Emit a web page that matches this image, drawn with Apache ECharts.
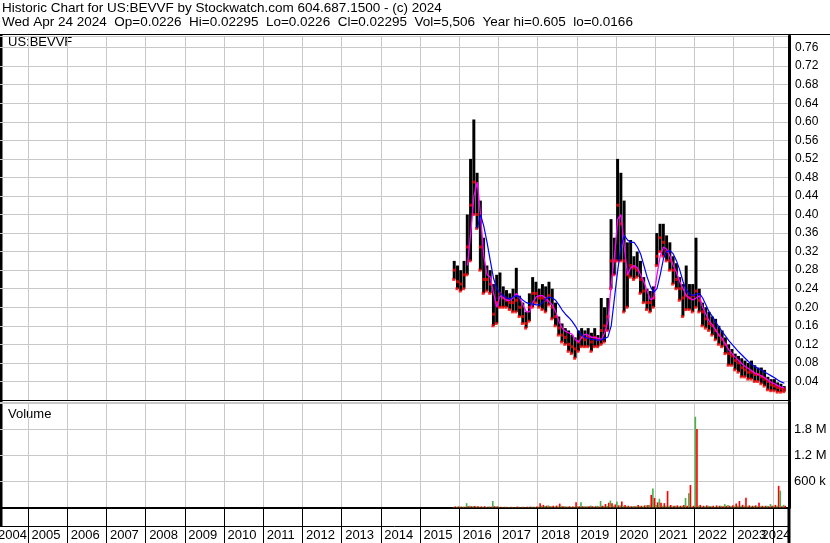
<!DOCTYPE html>
<html><head><meta charset="utf-8">
<script src="https://cdn.jsdelivr.net/npm/echarts/dist/echarts.min.js"></script>
<style>html,body{margin:0;padding:0;background:#fff}#c{width:830px;height:543px}</style>
</head><body><div id="c"></div>
<script>
// ---------- data (monthly) ----------
const months = [
 "2015-11","2015-12",
 "2016-01","2016-02","2016-03","2016-04","2016-05","2016-06","2016-07","2016-08","2016-09","2016-10","2016-11","2016-12",
 "2017-01","2017-02","2017-03","2017-04","2017-05","2017-06","2017-07","2017-08","2017-09","2017-10","2017-11","2017-12",
 "2018-01","2018-02","2018-03","2018-04","2018-05","2018-06","2018-07","2018-08","2018-09","2018-10","2018-11","2018-12",
 "2019-01","2019-02","2019-03","2019-04","2019-05","2019-06","2019-07","2019-08","2019-09","2019-10","2019-11","2019-12",
 "2020-01","2020-02","2020-03","2020-04","2020-05","2020-06","2020-07","2020-08","2020-09","2020-10","2020-11","2020-12",
 "2021-01","2021-02","2021-03","2021-04","2021-05","2021-06","2021-07","2021-08","2021-09","2021-10","2021-11","2021-12",
 "2022-01","2022-02","2022-03","2022-04","2022-05","2022-06","2022-07","2022-08","2022-09","2022-10","2022-11","2022-12",
 "2023-01","2023-02","2023-03","2023-04","2023-05","2023-06","2023-07","2023-08","2023-09","2023-10","2023-11","2023-12",
 "2024-01","2024-02","2024-03","2024-04"];
const highs = [
 0.30,0.29,
 0.28,0.30,0.40,0.52,0.605,0.49,0.43,0.35,0.29,0.28,0.25,0.27,
 0.275,0.245,0.237,0.23,0.24,0.285,0.225,0.21,0.19,0.23,0.265,0.255,
 0.24,0.25,0.245,0.255,0.24,0.21,0.18,0.165,0.155,0.15,0.14,0.135,
 0.15,0.155,0.15,0.155,0.145,0.155,0.14,0.22,0.20,0.22,0.39,0.35,
 0.52,0.49,0.43,0.34,0.345,0.31,0.32,0.30,0.265,0.24,0.235,0.245,
 0.36,0.38,0.38,0.355,0.34,0.31,0.295,0.265,0.25,0.29,0.25,0.25,
 0.35,0.24,0.21,0.20,0.19,0.18,0.175,0.16,0.15,0.135,0.12,0.11,
 0.10,0.095,0.09,0.085,0.08,0.085,0.075,0.07,0.07,0.065,0.05,0.045,
 0.045,0.038,0.035,0.03];
const lows = [
 0.26,0.24,
 0.235,0.24,0.27,0.30,0.40,0.37,0.28,0.23,0.235,0.23,0.16,0.165,
 0.20,0.20,0.20,0.195,0.19,0.19,0.18,0.165,0.155,0.17,0.20,0.21,
 0.20,0.195,0.19,0.205,0.175,0.16,0.14,0.125,0.12,0.105,0.10,0.09,
 0.105,0.115,0.115,0.115,0.105,0.115,0.115,0.12,0.125,0.15,0.24,0.27,
 0.30,0.30,0.19,0.20,0.265,0.26,0.265,0.23,0.21,0.195,0.19,0.20,
 0.29,0.32,0.31,0.30,0.28,0.25,0.24,0.215,0.18,0.195,0.195,0.19,
 0.20,0.19,0.16,0.155,0.15,0.14,0.13,0.12,0.115,0.10,0.075,0.075,
 0.065,0.06,0.05,0.05,0.045,0.045,0.04,0.04,0.035,0.03,0.022,0.02,
 0.02,0.017,0.017,0.018];
const closes = [
 0.28,0.255,
 0.25,0.27,0.33,0.42,0.47,0.40,0.33,0.26,0.26,0.25,0.185,0.21,
 0.23,0.22,0.215,0.21,0.21,0.215,0.20,0.18,0.165,0.20,0.23,0.23,
 0.22,0.22,0.215,0.225,0.20,0.18,0.155,0.14,0.135,0.12,0.115,0.11,
 0.125,0.135,0.13,0.135,0.125,0.135,0.13,0.15,0.16,0.18,0.30,0.30,
 0.42,0.38,0.30,0.27,0.29,0.285,0.28,0.26,0.235,0.21,0.21,0.22,
 0.31,0.35,0.34,0.32,0.30,0.28,0.26,0.24,0.22,0.225,0.22,0.225,
 0.235,0.215,0.19,0.175,0.165,0.16,0.15,0.14,0.13,0.12,0.10,0.095,
 0.085,0.08,0.07,0.065,0.06,0.06,0.055,0.055,0.05,0.045,0.04,0.033,
 0.03,0.027,0.025,0.023];
const maShort = [
 null,null,
 null,null,0.29,0.36,0.44,0.47,0.40,0.31,0.27,0.265,0.23,0.20,
 0.225,0.22,0.215,0.215,0.22,0.23,0.22,0.205,0.19,0.19,0.21,0.222,
 0.225,0.225,0.22,0.212,0.205,0.19,0.17,0.155,0.148,0.145,0.142,0.13,
 0.125,0.135,0.142,0.14,0.135,0.135,0.133,0.13,0.145,0.17,0.25,0.31,
 0.39,0.40,0.33,0.27,0.285,0.29,0.285,0.27,0.255,0.235,0.216,0.22,
 0.27,0.31,0.33,0.325,0.31,0.29,0.275,0.255,0.24,0.225,0.22,0.216,
 0.22,0.225,0.20,0.185,0.17,0.162,0.15,0.14,0.132,0.12,0.108,0.10,
 0.092,0.085,0.078,0.072,0.068,0.063,0.058,0.055,0.052,0.048,0.043,0.038,
 0.035,0.031,0.028,0.026];
const maLong = [
 null,null,
 null,null,null,null,null,0.37,0.40,0.375,0.34,0.30,0.262,0.24,
 0.23,0.225,0.22,0.218,0.222,0.225,0.222,0.215,0.21,0.208,0.207,0.205,
 0.205,0.21,0.218,0.222,0.22,0.215,0.205,0.194,0.185,0.178,0.17,0.16,
 0.147,0.14,0.135,0.133,0.131,0.13,0.129,0.13,0.133,0.136,0.16,0.22,
 0.28,0.33,0.355,0.345,0.34,0.34,0.33,0.315,0.29,0.265,0.245,0.232,
 0.24,0.27,0.305,0.32,0.322,0.315,0.30,0.28,0.255,0.237,0.228,0.225,
 0.228,0.23,0.22,0.205,0.19,0.18,0.168,0.157,0.147,0.138,0.128,0.12,
 0.112,0.104,0.097,0.09,0.083,0.077,0.072,0.068,0.064,0.06,0.056,0.052,
 0.048,0.043,0.039,0.036];
// volume, thousands of shares
const volUp = [
 15,20,
 25,20,100,40,30,25,20,20,15,25,150,30,
 15,10,15,10,15,10,15,20,10,15,20,15,
 20,40,35,50,30,25,30,40,30,25,20,20,
 30,120,30,30,45,25,40,150,40,40,160,40,
 140,50,40,30,30,30,30,30,30,50,60,440,
 60,200,40,40,40,30,40,30,40,220,330,30,
 2095,40,30,30,40,30,20,30,40,80,60,30,
 30,40,40,40,30,30,40,30,30,30,40,80,
 40,40,390,60];
const volDown = [
 25,25,
 20,20,30,30,35,30,25,30,20,15,30,25,
 20,15,10,15,10,20,10,15,15,20,15,25,
 100,60,40,30,40,45,90,30,20,30,25,120,
 30,30,25,30,30,30,25,40,80,110,100,70,
 50,140,60,40,30,30,60,40,50,60,290,220,
 120,110,100,380,60,40,50,40,60,40,520,40,
 1810,60,40,50,30,40,50,40,30,40,40,50,
 90,150,60,225,50,40,50,110,40,40,30,40,
 60,500,30,40];
const yearTicks = [2004,2005,2006,2007,2008,2009,2010,2011,2012,2013,2014,2015,2016,2017,2018,2019,2020,2021,2022,2023,2024];
const priceStep = 0.04;
const volLabels = {600: "600 k", 1200: "1.2 M", 1800: "1.8 M"};
const headerLine1 = "Historic Chart for US:BEVVF by Stockwatch.com 604.687.1500 - (c) 2024";
const headerLine2 = "Wed Apr 24 2024  Op=0.0226  Hi=0.02295  Lo=0.0226  Cl=0.02295  Vol=5,506  Year hi=0.605  lo=0.0166";
const symbolLabel = "US:BEVVF";
const volumeTitle = "Volume";

// ---------- build ----------
const X_MIN = 2004, X_MAX = 2024.41;
const FONT = "'Liberation Sans', Arial, sans-serif";
function toYear(m){ const p = m.split('-'); return +p[0] + (+p[1]-1)/12; }
const M = 1/12;
const barData = months.map((m,i)=>[toYear(m), lows[i], highs[i]]);
const closeData = months.map((m,i)=>[toYear(m)+M/2, closes[i]]);
const lowData = months.map((m,i)=>[toYear(m)+M*0.3, lows[i]]);
const shortData = months.map((m,i)=>[toYear(m)+M/2, maShort[i]]).filter(d=>d[1]!=null);
const longData = months.map((m,i)=>[toYear(m)+M/2, maLong[i]]).filter(d=>d[1]!=null);
const volData = months.map((m,i)=>[toYear(m), volUp[i], volDown[i]]);

const grid = {left:-11.2, right:41, outerBoundsMode:'none', containLabel:false};
const chart = echarts.init(document.getElementById('c'), null, {renderer:'canvas'});
chart.setOption({
  animation:false,
  backgroundColor:'#fff',
  grid:[
    Object.assign({top:36, height:364}, grid),
    Object.assign({top:402, height:105.5}, grid)
  ],
  xAxis:[
    {gridIndex:0, type:'value', min:X_MIN, max:X_MAX, interval:1,
     axisLine:{show:true, onZero:false, lineStyle:{color:'#000', width:1}},
     axisTick:{show:false}, axisLabel:{show:false},
     splitLine:{show:true, lineStyle:{color:'#c8c8c8', width:1}}},
    {gridIndex:1, type:'value', min:X_MIN, max:X_MAX, interval:1,
     axisLine:{show:true, onZero:false, lineStyle:{color:'#000', width:2}},
     axisTick:{show:true, length:36, lineStyle:{color:'#000', width:1}},
     axisLabel:{show:false},
     splitLine:{show:true, lineStyle:{color:'#c8c8c8', width:1}}}
  ],
  yAxis:[
    {gridIndex:0, type:'value', position:'right', min:0, max:0.785, interval:priceStep,
     axisLine:{show:true, lineStyle:{color:'#000', width:3}},
     axisTick:{show:false},
     axisLabel:{margin:6, color:'#000', fontFamily:FONT, fontSize:12,
       formatter:v=>{ const k=v/priceStep; return (v>0 && Math.abs(k-Math.round(k))<1e-6) ? v.toFixed(2) : ''; }},
     splitLine:{show:true, lineStyle:{color:'#c8c8c8', width:1}}},
    {gridIndex:1, type:'value', position:'right', min:0, max:2435, interval:600,
     axisLine:{show:true, lineStyle:{color:'#000', width:3}},
     axisTick:{show:false},
     axisLabel:{margin:5, color:'#000', fontFamily:FONT, fontSize:13,
       formatter:v=> volLabels[Math.round(v)] || ''},
     splitLine:{show:true, lineStyle:{color:'#c8c8c8', width:1}}}
  ],
  series:[
    {type:'custom', xAxisIndex:0, yAxisIndex:0, data:barData, encode:{x:0, y:[1,2]}, z:2,
     renderItem:(p, api)=>{
       const t=api.value(0), lo=api.value(1), hi=api.value(2);
       const a=api.coord([t, hi]), b=api.coord([t+M, lo]);
       return {type:'rect', shape:{x:a[0], y:a[1], width:Math.max(b[0]-a[0]-0.3,1), height:Math.max(b[1]-a[1],1)},
               style:{fill:'#000'}};
     }},
    {type:'scatter', xAxisIndex:0, yAxisIndex:0, data:lowData, symbol:'rect', symbolSize:[3,3],
     itemStyle:{color:'#ff0000'}, z:3},
    {type:'scatter', xAxisIndex:0, yAxisIndex:0, data:closeData, symbol:'rect', symbolSize:[3,3],
     itemStyle:{color:'#ff0000'}, z:3},
    {type:'line', xAxisIndex:0, yAxisIndex:0, data:shortData, showSymbol:false, symbol:'none',
     lineStyle:{color:'#ff00ff', width:1.3}, z:4},
    {type:'line', xAxisIndex:0, yAxisIndex:0, data:longData, showSymbol:false, symbol:'none',
     lineStyle:{color:'#0000ff', width:1.2}, z:5},
    {type:'custom', xAxisIndex:1, yAxisIndex:1, data:volData, encode:{x:0, y:[1,2]}, z:2,
     renderItem:(p, api)=>{
       const t=api.value(0), up=api.value(1), dn=api.value(2);
       const base=api.coord([t,0]);
       const g=api.coord([t, up]), r=api.coord([t+M/2, dn]), e=api.coord([t+M, 0]);
       const w=(e[0]-base[0])/2;
       return {type:'group', children:[
         {type:'rect', shape:{x:base[0], y:g[1], width:w, height:base[1]-g[1]}, style:{fill:'#4cb04c'}},
         {type:'rect', shape:{x:r[0], y:r[1], width:w, height:base[1]-r[1]}, style:{fill:'#ff0000'}}
       ]};
     }},
    {type:'custom', xAxisIndex:1, yAxisIndex:1, data:yearTicks.map(y=>[y,0]), encode:{x:0,y:1}, z:6, clip:false,
     renderItem:(p, api)=>{
       const yr=api.value(0);
       const a=api.coord([yr,0]), n=api.coord([yr+1,0]), right=api.coord([X_MAX,0])[0];
       let x=a[0]+3.5, align='left';
       if (a[0] < 0) { x=n[0]-1; align='right'; }
       else if (n[0] > right) { x=right+1.5; align='right'; }
       return {type:'text', style:{text:String(yr), x:x, y:a[1]+27.5, align:align, verticalAlign:'middle',
               fill:'#000', font:'13px '+FONT}};
     }}
  ],
  graphic:[
    {type:'text', left:2, top:1, style:{text:headerLine1, fill:'#000', font:'13.5px '+FONT}},
    {type:'text', left:2, top:15, style:{text:headerLine2, fill:'#000', font:'13.5px '+FONT}},
    {type:'line', shape:{x1:0, y1:34.5, x2:830, y2:34.5}, style:{stroke:'#000', lineWidth:1}},
    {type:'text', left:8, top:36, style:{text:symbolLabel, fill:'#000', font:'13px '+FONT}},
    {type:'text', left:8, top:408, style:{text:volumeTitle, fill:'#000', font:'13px '+FONT}},
    {type:'line', shape:{x1:0, y1:402.5, x2:789, y2:402.5}, style:{stroke:'#000', lineWidth:1}},
    {type:'line', shape:{x1:0, y1:526.5, x2:789, y2:526.5}, style:{stroke:'#000', lineWidth:1}},
    {type:'line', shape:{x1:1, y1:35, x2:1, y2:527}, style:{stroke:'#000', lineWidth:3}},
    {type:'line', shape:{x1:789, y1:507, x2:789, y2:543}, style:{stroke:'#000', lineWidth:3}}
  ]
});
</script></body></html>
